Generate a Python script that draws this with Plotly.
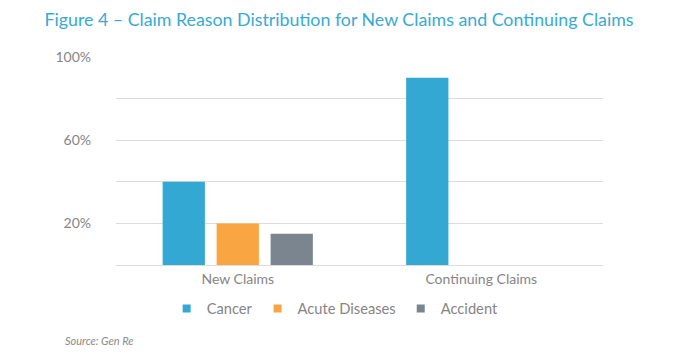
import plotly.graph_objects as go

categories = ["New Claims", "Continuing Claims"]
series_names = ["Cancer", "Acute Diseases", "Accident"]
cancer = [40, 90]
acute = [20, 0]
accident = [15, 0]
colors = ["#33A8D3", "#F9A541", "#7A8590"]
tick_vals = [0, 20, 40, 60, 80, 100]
tick_text = ["", "20%", "", "60%", "", "100%"]

fig = go.Figure()
for name, vals, col in zip(series_names, [cancer, acute, accident], colors):
    fig.add_trace(go.Bar(name=name, x=categories, y=vals, showlegend=False,
                         marker=dict(color=col, line=dict(width=0))))
# legend entries with small square swatches
for name, col in zip(series_names, colors):
    fig.add_trace(go.Scatter(name=name, x=[None], y=[None], mode="markers",
                             marker=dict(symbol="square", size=8, color=col)))

fig.update_layout(
    width=666, height=348,
    margin=dict(l=108, r=71, t=49, b=91),
    paper_bgcolor="white", plot_bgcolor="white",
    font=dict(family="Lato", color="#858585", size=14),
    barmode="group", bargap=0.335, bargroupgap=0.217,
    title=dict(text="Figure 4 – Claim Reason Distribution for New Claims and Continuing Claims",
               x=0.497, xanchor="center", y=0.966, yanchor="middle",
               font=dict(family="Lato", size=17.8, color="#38AAD2")),
    legend=dict(orientation="h", x=0.45, xanchor="center", y=-0.2115, yanchor="middle",
                font=dict(size=14.7, color="#858585"), traceorder="normal",
                itemwidth=30),
    showlegend=True,
)
fig.update_xaxes(showline=False, showgrid=False, ticks="", ticklabelstandoff=4,
                 tickfont=dict(size=14, color="#858585"))
fig.update_yaxes(range=[0, 100], tickvals=tick_vals, ticktext=tick_text,
                 showgrid=True, gridcolor="#DCDCDC", gridwidth=1.3,
                 zeroline=True, zerolinecolor="#DCDCDC", zerolinewidth=1.3,
                 ticks="", ticklabelstandoff=24, tickfont=dict(size=14, color="#858585"))
fig.add_annotation(text="<i>Source: Gen Re</i>", xref="paper", yref="paper",
                   x=-0.1094, xanchor="left", y=-0.364, yanchor="middle", showarrow=False,
                   font=dict(size=11, color="#8A8A8A", family="Lato"))
fig.write_html("out.html")
